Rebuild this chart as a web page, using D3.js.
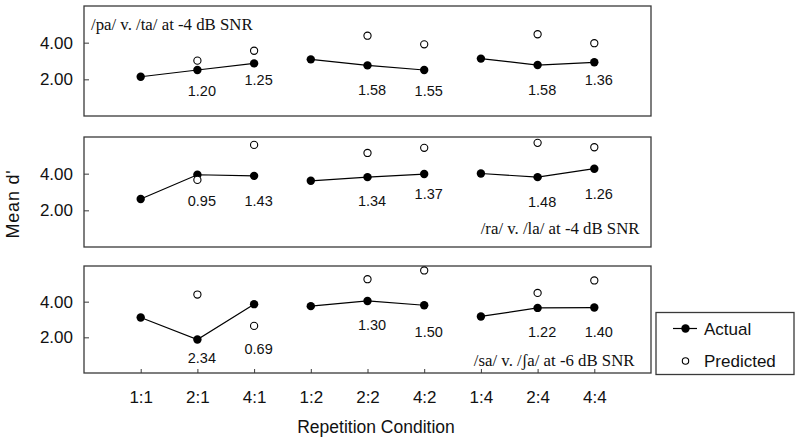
<!DOCTYPE html>
<html>
<head>
<meta charset="utf-8">
<script src="https://cdn.jsdelivr.net/npm/d3@7"></script>
<style>
  html, body { margin: 0; padding: 0; background: #fff; }
  svg { display: block; }
  .sans { font-family: "Liberation Sans", Arial, Helvetica, sans-serif; }
  .serif { font-family: "Liberation Serif", "Times New Roman", "DejaVu Serif", serif; }
</style>
</head>
<body>
<svg id="chart" width="800" height="442"></svg>
<script>
// ---------------- data ----------------
const categories = ["1:1", "2:1", "4:1", "1:2", "2:2", "4:2", "1:4", "2:4", "4:4"];
const lineGroups = [["1:1", "2:1", "4:1"], ["1:2", "2:2", "4:2"], ["1:4", "2:4", "4:4"]];
const yTicks = [2, 4];
const yTickLabels = ["2.00", "4.00"];
const panelTitles = ["/pa/ v. /ta/ at -4 dB SNR", "/ra/ v. /la/ at -4 dB SNR", "/sa/ v. /\u0283a/ at -6 dB SNR"];

const actualPa    = [2.14, 2.51, 2.87, 3.09, 2.76, 2.51, 3.13, 2.78, 2.93];
const predictedPa = [null, 3.02, 3.56, null, 4.38, 3.91, null, 4.46, 3.97];
const ratioPa     = [null, "1.20", "1.25", null, "1.58", "1.55", null, "1.58", "1.36"];
const ratioAtPa   = [null, 1.38, 2.0, null, 1.42, 1.40, null, 1.42, 2.0];

const actualRa    = [2.62, 3.94, 3.88, 3.61, 3.81, 3.98, 4.01, 3.81, 4.27];
const predictedRa = [null, 3.66, 5.57, null, 5.13, 5.41, null, 5.68, 5.44];
const ratioRa     = [null, "0.95", "1.43", null, "1.34", "1.37", null, "1.48", "1.26"];
const ratioAtRa   = [null, 2.52, 2.52, null, 2.52, 2.93, null, 2.47, 2.93];

const actualSa    = [3.11, 1.88, 3.86, 3.75, 4.04, 3.80, 3.17, 3.65, 3.67];
const predictedSa = [null, 4.40, 2.64, null, 5.26, 5.75, null, 4.49, 5.19];
const ratioSa     = [null, "2.34", "0.69", null, "1.30", "1.50", null, "1.22", "1.40"];
const ratioAtSa   = [null, 0.84, 1.35, null, 2.72, 2.31, null, 2.31, 2.31];

const seriesNames = ["Actual", "Predicted"];
const xTitle = "Repetition Condition";
const yTitle = "Mean d'";

// ---------------- layout ----------------
const panelsData = [
  { actual: actualPa, predicted: predictedPa, ratio: ratioPa, ratioAt: ratioAtPa },
  { actual: actualRa, predicted: predictedRa, ratio: ratioRa, ratioAt: ratioAtRa },
  { actual: actualSa, predicted: predictedSa, ratio: ratioSa, ratioAt: ratioAtSa }
];
const panelBoxes = [ { top: 6, bottom: 116 }, { top: 137, bottom: 247 }, { top: 266, bottom: 373 } ];
const titleLayout = [
  { x: 91, y: 30, anchor: "start" },
  { x: 639.5, y: 233.5, anchor: "end" },
  { x: 634.5, y: 366, anchor: "end" }
];
const left = 84, right = 651;

const svg = d3.select("#chart");
const x = d3.scalePoint().domain(categories).range([left, right]).padding(1);

panelsData.forEach((pd, pi) => {
  const box = panelBoxes[pi];
  const y = d3.scaleLinear().domain([0, 6]).range([box.bottom, box.top]);
  const g = svg.append("g");

  // frame
  g.append("rect")
    .attr("x", left).attr("y", box.top)
    .attr("width", right - left).attr("height", box.bottom - box.top)
    .attr("fill", "none").attr("stroke", "#3a3a3a").attr("stroke-width", 1.3);

  // y axis
  const yAxis = d3.axisLeft(y).tickValues(yTicks)
    .tickFormat(d => yTickLabels[yTicks.indexOf(d)])
    .tickSize(-5).tickPadding(11);
  const ya = g.append("g").attr("transform", `translate(${left},0)`).call(yAxis);
  ya.select(".domain").remove();
  ya.selectAll(".tick line").attr("stroke", "#3a3a3a").attr("stroke-width", 1);
  ya.selectAll(".tick text").attr("class", "sans").attr("font-size", 17).attr("fill", "#111");

  // x axis only on last panel
  if (pi === panelsData.length - 1) {
    const xAxis = d3.axisBottom(x).tickSize(-4).tickPadding(18);
    const xa = g.append("g").attr("transform", `translate(0,${box.bottom})`).call(xAxis);
    xa.select(".domain").remove();
    xa.selectAll(".tick line").attr("stroke", "#3a3a3a").attr("stroke-width", 1);
    xa.selectAll(".tick text").attr("class", "sans").attr("font-size", 17).attr("fill", "#111");
  }

  // lines
  const line = d3.line().x(d => x(d.c)).y(d => y(d.v));
  lineGroups.forEach(grp => {
    const pts = grp.map(c => ({ c, v: pd.actual[categories.indexOf(c)] }));
    g.append("path").attr("d", line(pts))
      .attr("fill", "none").attr("stroke", "#000").attr("stroke-width", 1.2);
  });

  // actual dots
  g.selectAll(".act").data(pd.actual).enter().append("circle")
    .attr("cx", (d, i) => x(categories[i])).attr("cy", d => y(d))
    .attr("r", 4.2).attr("fill", "#000");

  // predicted circles
  g.selectAll(".pred").data(pd.predicted.map((v, i) => ({ v, c: categories[i] })).filter(d => d.v != null))
    .enter().append("circle")
    .attr("cx", d => x(d.c)).attr("cy", d => y(d.v))
    .attr("r", 3.6).attr("fill", "#fff").attr("stroke", "#000").attr("stroke-width", 1.1);

  // ratio labels
  g.selectAll(".ratio").data(pd.ratio.map((t, i) => ({ t, c: categories[i], at: pd.ratioAt[i] })).filter(d => d.t != null))
    .enter().append("text")
    .attr("class", "sans")
    .attr("x", d => x(d.c) + 4.5).attr("y", d => y(d.at))
    .attr("dy", "0.36em")
    .attr("text-anchor", "middle").attr("font-size", 14.5).attr("fill", "#111")
    .text(d => d.t);

  // panel title
  const tl = titleLayout[pi];
  g.append("text").attr("class", "serif")
    .attr("x", tl.x).attr("y", tl.y).attr("text-anchor", tl.anchor)
    .attr("font-size", 16.8).attr("fill", "#111")
    .text(panelTitles[pi]);
});

// axis titles
svg.append("text").attr("class", "sans")
  .attr("x", 376).attr("y", 427).attr("dy", "0.36em")
  .attr("text-anchor", "middle").attr("font-size", 17.5).attr("fill", "#111")
  .text(xTitle);

svg.append("text").attr("class", "sans")
  .attr("transform", "translate(13,204) rotate(-90)")
  .attr("dy", "0.36em")
  .attr("text-anchor", "middle").attr("font-size", 18).attr("fill", "#111")
  .attr("letter-spacing", 0.8)
  .text(yTitle);

// legend
const lg = svg.append("g");
lg.append("rect").attr("x", 656).attr("y", 312.5).attr("width", 138).attr("height", 62)
  .attr("fill", "#fff").attr("stroke", "#3a3a3a").attr("stroke-width", 1.3);
lg.append("line").attr("x1", 673).attr("x2", 697).attr("y1", 328.5).attr("y2", 328.5)
  .attr("stroke", "#000").attr("stroke-width", 1.2);
lg.append("circle").attr("cx", 685.5).attr("cy", 328.5).attr("r", 4.2).attr("fill", "#000");
lg.append("circle").attr("cx", 685.5).attr("cy", 361).attr("r", 3.2)
  .attr("fill", "#fff").attr("stroke", "#000").attr("stroke-width", 1.1);
lg.selectAll(".lt").data(seriesNames).enter().append("text").attr("class", "sans")
  .attr("x", 704).attr("y", (d, i) => i === 0 ? 328.5 : 361).attr("dy", "0.36em")
  .attr("font-size", 17).attr("fill", "#111").text(d => d);
</script>
</body>
</html>
